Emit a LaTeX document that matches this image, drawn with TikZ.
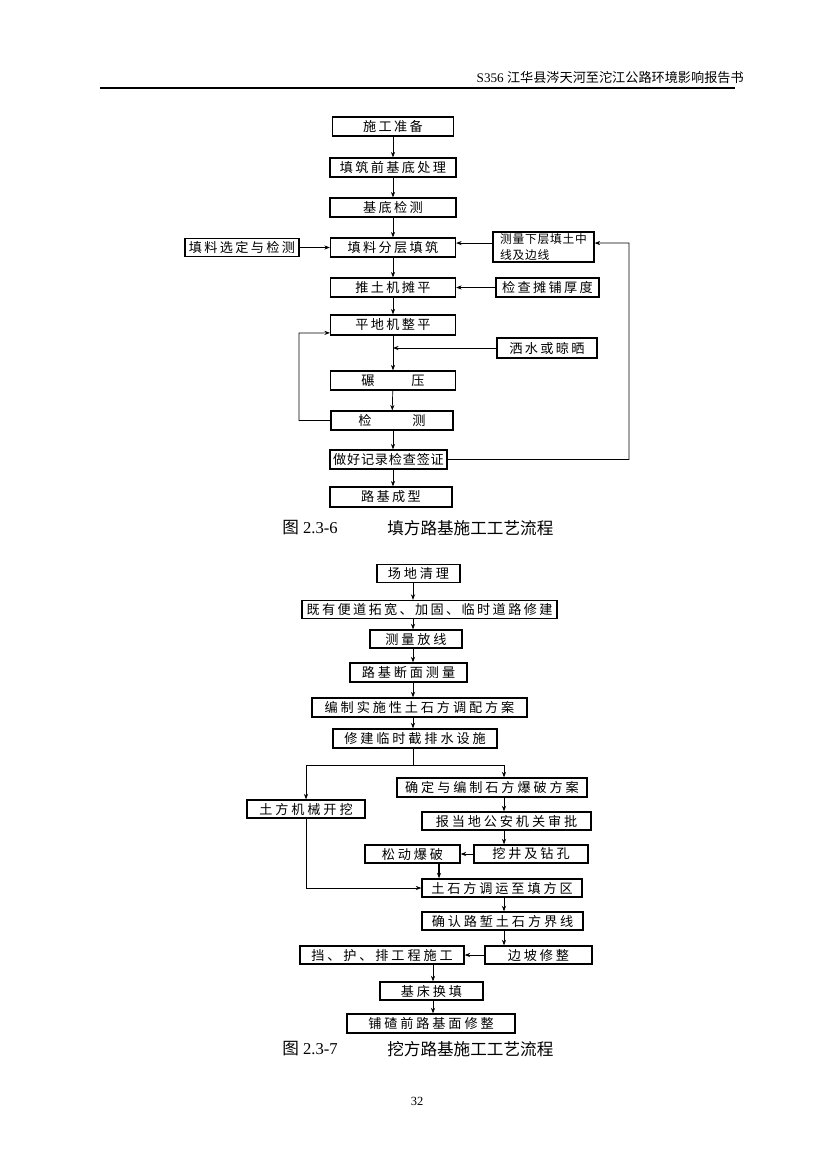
\documentclass[tikz,border=0pt]{standalone}
\usepackage{fontspec}
\setmainfont{Liberation Serif}
\newfontfamily\cjk{Noto Sans CJK SC}
\newfontfamily\cjkbox[LetterSpace=18]{Noto Sans CJK SC}
\newfontfamily\cjkwide[LetterSpace=22]{Noto Sans CJK SC}
\newfontfamily\cjktight[LetterSpace=6]{Noto Sans CJK SC}
\usetikzlibrary{arrows.meta, positioning}

\tikzset{
	box/.style={draw, line width=0.9pt, inner sep=0pt, font=\cjkbox\fontsize{9.5pt}{10pt}\selectfont},
	cutbox/.style={box, line width=1pt, font=\cjkwide\fontsize{9.5pt}{10pt}\selectfont},
	wd/.style={minimum width=#1*0.2539mm},
	ht/.style={minimum height=#1*0.2539mm},
	arr/.style={-{Stealth[length=4pt,width=3pt]}, line width=0.5pt},
	ln/.style={line width=0.5pt},
}

\begin{document}
\begin{tikzpicture}[x=0.2539mm, y=-0.2539mm]
	\fill[white] (0,0) rectangle (827,1169);
	\useasboundingbox (0,0) rectangle (827,1169);
	% header
	\node[anchor=east, inner sep=0pt, font=\fontsize{9.5pt}{11pt}\selectfont] (hdr) at (744,78) {S356 {\cjk 江华县涔天河至沱江公路环境影响报告书}};
	\draw[line width=1pt] (100,88) -- (735,88);
	% fill subgrade
	\node[box, wd=121, ht=19] (f1) at (393,126.5) {施工准备};
	\node[box, wd=126, ht=19] (f2) at (393,167.5) {填筑前基底处理};
	\node[box, wd=126, ht=19] (f3) at (393,207.5) {基底检测};
	\node[box, wd=125, ht=19] (f4) at (393,247.5) {填料分层填筑};
	\node[box, wd=114, ht=18] (f4l) at (242,247.5) {填料选定与检测};
	\node[box, wd=101, ht=30, align=left, font=\cjktight\fontsize{8.5pt}{12pt}\selectfont] (f4r) at (543.5,247) {测量下层填土中\\线及边线};
	\node[box, wd=125, ht=19] (f5) at (393,287.5) {推土机摊平};
	\node[box, wd=103, ht=19] (f5r) at (547.5,287.5) {检查摊铺厚度};
	\node[box, wd=125, ht=20] (f6) at (393,325) {平地机整平};
	\node[box, wd=100, ht=20] (f6r) at (547,348) {洒水或晾晒};
	\node[box, wd=125, ht=19] (f7) at (393,380.5) {碾\hspace{2.8em}压};
	\node[box, wd=122, ht=19] (f8) at (392,420.5) {检\hspace{3.1em}测};
	\node[box, wd=117, ht=19, font=\cjktight\fontsize{9.5pt}{10pt}\selectfont] (f9) at (388.5,459.5) {做好记录检查签证};
	\node[box, wd=122, ht=20] (f10) at (391,497) {路基成型};
	\coordinate (fc) at (393,0);
	\coordinate (rr) at (629,243);
	\coordinate (ll) at (299,333);
	\path[arr] (f1) edge (f2)
		(f2) edge (f3)
		(f3) edge (f4)
		(f4) edge (f5)
		(f5) edge (f6)
		(f6) edge (f7)
		(f7) edge (f8)
		(f4l) edge (f4)
		(f5r) edge (f5);
	\draw[arr] (f8.south -| fc) -- (f9.north -| fc);
	\draw[arr] (f9.south -| fc) -- (f10.north -| fc);
	\draw[arr] ([yshift=1mm]f4r.west) -- ([yshift=1mm]f4r.west -| f4.east);
	\draw[arr] (f6r.west) -- (f6r.west -| fc);
	\draw[arr] (f9.east) -| (rr) -- ([yshift=1mm]f4r.east);
	\draw[arr] (f8.west) -| (ll) -- ([yshift=-2mm]f6.west);
	\node[anchor=west, inner sep=0pt, font=\fontsize{12pt}{14pt}\selectfont] (cap1) at (282,528) {{\cjk 图} 2.3-6};
	\node[anchor=west, inner sep=0pt, font=\cjk\fontsize{12pt}{14pt}\selectfont] (cap1t) at (387,528) {填方路基施工工艺流程};
	% cut subgrade
	\node[cutbox, wd=83, ht=18] (w1) at (418.5,573.5) {场地清理};
	\node[cutbox, wd=255, ht=18, font=\cjkbox\fontsize{9.5pt}{10pt}\selectfont] (w2) at (429.5,609.5) {既有便道拓宽、加固、临时道路修建};
	\node[cutbox, wd=92, ht=18] (w3) at (416,639) {测量放线};
	\node[cutbox, wd=117, ht=19] (w4) at (408.5,672.5) {路基断面测量};
	\node[cutbox, wd=215, ht=19] (w5) at (419.5,707.5) {编制实施性土石方调配方案};
	\node[cutbox, wd=164, ht=19] (w6) at (415,738.5) {修建临时截排水设施};
	\node[cutbox, wd=190, ht=19] (w7) at (492,787.5) {确定与编制石方爆破方案};
	\node[cutbox, wd=118, ht=18] (w7l) at (306,809) {土方机械开挖};
	\node[cutbox, wd=169, ht=18] (w8) at (506.5,821) {报当地公安机关审批};
	\node[cutbox, wd=114, ht=18] (w9) at (531,854) {挖井及钻孔};
	\node[cutbox, wd=95, ht=18] (w9l) at (412.5,854) {松动爆破};
	\node[cutbox, wd=160, ht=18] (w10) at (502,888) {土石方调运至填方区};
	\node[cutbox, wd=161, ht=18] (w11) at (502.5,921) {确认路堑土石方界线};
	\node[cutbox, wd=107, ht=18] (w12) at (538.5,955) {边坡修整};
	\node[cutbox, wd=164, ht=18] (w12l) at (382,955) {挡、护、排工程施工};
	\node[cutbox, wd=103, ht=18] (w13) at (431.5,991) {基床换填};
	\node[cutbox, wd=168, ht=19] (w14) at (431,1023.5) {铺碴前路基面修整};
	\coordinate (wc) at (413,0);
	\coordinate (wr) at (504,0);
	\coordinate (wm) at (439,0);
	\coordinate (wb) at (433,0);
	\coordinate (sp) at (413,765);
	\draw[arr] (w1.south -| wc) -- (w2.north -| wc);
	\draw[arr] (w2.south -| wc) -- (w3.north -| wc);
	\draw[arr] (w3.south -| wc) -- (w4.north -| wc);
	\draw[arr] (w4.south -| wc) -- (w5.north -| wc);
	\draw[arr] (w5.south -| wc) -- (w6.north -| wc);
	\draw[ln] (w6.south -| wc) -- (sp);
	\draw[arr] (sp) -| (w7l.north);
	\draw[arr] (sp) -| (w7.north -| wr);
	\draw[arr] (w7.south -| wr) -- (w8.north -| wr);
	\draw[arr] (w8.south -| wr) -- (w9.north -| wr);
	\draw[arr] (w9) -- (w9l);
	\draw[arr, line width=1pt] (w9l.south -| wm) -- (w10.north -| wm);
	\draw[arr] (w7l.south) |- (w10.west);
	\draw[arr] (w10.south -| wr) -- (w11.north -| wr);
	\draw[arr] (w11.south -| wr) -- (w12.north -| wr);
	\draw[arr] (w12) -- (w12l);
	\draw[arr] (w12l.south -| wb) -- (w13.north -| wb);
	\draw[arr] (w13.south -| wb) -- (w14.north -| wb);
	\node[anchor=west, inner sep=0pt, font=\fontsize{12pt}{14pt}\selectfont] (cap2) at (282,1049) {{\cjk 图} 2.3-7};
	\node[anchor=west, inner sep=0pt, font=\cjk\fontsize{12pt}{14pt}\selectfont] (cap2t) at (387,1049) {挖方路基施工工艺流程};
	% page number
	\node[font=\fontsize{9pt}{10pt}\selectfont] (pg) at (417,1101) {32};
\end{tikzpicture}
\end{document}
